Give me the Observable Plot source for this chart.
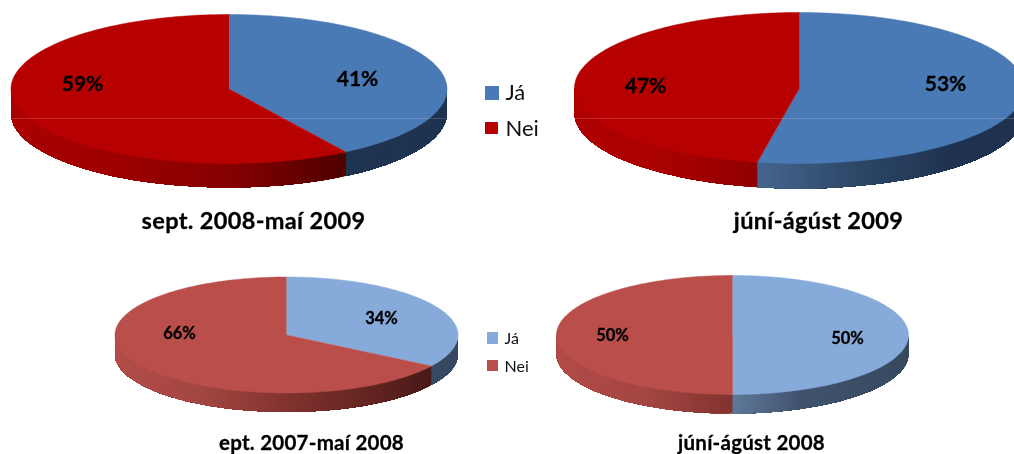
<!DOCTYPE html>
<html>
<head>
<meta charset="utf-8">
<script src="https://cdn.jsdelivr.net/npm/d3@7"></script>
<script src="https://cdn.jsdelivr.net/npm/@observablehq/plot@0.6"></script>
<style>
html,body{margin:0;padding:0;background:#fff}
#chart{width:1014px;height:454px;overflow:hidden}
#chart svg{display:block;filter:blur(0.45px)}
</style>
</head>
<body>
<div id="chart"></div>
<script>
// ---- data ----
const periods = ["sept. 2008-maí 2009", "júní-ágúst 2009", "ept. 2007-maí 2008", "júní-ágúst 2008"];
const yesValues = [41, 53, 34, 50];
const noValues = [59, 47, 66, 50];
const legendLabels = ["Já", "Nei"];

// ---- layout ----
const centerX = [228.5, 799, 286, 732];
const centerY = [88.5, 87.5, 334.5, 334.5];
const radiusX = [218, 225, 171.5, 176];
const radiusY = [74.5, 75.5, 58, 59.5];
const depth = [24, 25, 19, 19];
const titleY = [221, 221, 443, 443];
const titleX = [253, 818, 311, 751];
const yesLabelAt = [[357, 79], [945, 84], [381, 318], [847, 338]];
const noLabelAt = [[82, 84], [645, 86], [179, 333], [612, 335]];
const labelSize = [21, 21, 16.5, 16.5];
const titleSize = [23.5, 23.5, 20.5, 20.5];
const titleSpacing = [0.35, 0.35, 0.25, 0.25];

// ---- colours ----
const topYes = ["#4a7ab5", "#4a7ab5", "#86aad9", "#86aad9"];
const topNo = ["#b70000", "#b70000", "#b94e4a", "#b94e4a"];
const sideYes = [
  [[344, "#1f3450"], [446, "#1f3450"]],
  [[756, "#46668f"], [850, "#2e4969"], [950, "#1f3350"], [1024, "#1f3350"]],
  [[429, "#374a62"], [458, "#374a62"]],
  [[731, "#60799a"], [800, "#40536d"], [909, "#384a60"]]
];
const sideNo = [
  [[10, "#ab0000"], [100, "#a00000"], [228, "#860000"], [344, "#500000"]],
  [[574, "#b00000"], [680, "#a80000"], [756, "#8f0000"]],
  [[114, "#b34e4a"], [200, "#a34642"], [285, "#82332f"], [380, "#5f2320"], [430, "#481a18"]],
  [[556, "#b24c48"], [650, "#a34643"], [731, "#82332f"]]
];

const rad = d => d * Math.PI / 180;
const shade = stops => d3.scaleLinear().domain(stops.map(s => s[0])).range(stops.map(s => s[1])).clamp(true);

const topRows = [];
const sideRows = [];
let id = 0;

periods.forEach((_, i) => {
  const cx = centerX[i], cy = centerY[i], rx = radiusX[i], ry = radiusY[i], h = depth[i];
  const point = (a, dy = 0) => ({x: cx + rx * Math.sin(rad(a)), y: cy + dy - ry * Math.cos(rad(a))});
  const split = yesValues[i] / (yesValues[i] + noValues[i]) * 360;
  const slices = [
    {from: 0, to: split, top: topYes[i], side: shade(sideYes[i])},
    {from: split, to: 360, top: topNo[i], side: shade(sideNo[i])}
  ];
  for (const s of slices) {
    // top face
    const key = id++;
    topRows.push({id: key, c: s.top, x: cx, y: cy});
    for (let a = s.from; a < s.to; a += 1) topRows.push({id: key, c: s.top, ...point(a)});
    topRows.push({id: key, c: s.top, ...point(s.to)});
    // visible rim: each facet runs to the end of its slice and is overpainted by the next
    const lo = Math.max(s.from, 90), hi = Math.min(s.to, 270);
    for (const a of d3.range(lo, hi, 0.5)) {
      const k = id++;
      const c = s.side(point(a + 0.25).x);
      const row = [];
      for (let t = a; t < hi; t += 2) row.push(point(t));
      row.push(point(hi));
      for (let t = hi; t > a; t -= 2) row.push(point(t, h));
      row.push(point(a, h));
      for (const p of row) sideRows.push({id: k, c, ...p});
    }
  }
});

const yesLabels = periods.map((_, i) => ({x: yesLabelAt[i][0], y: yesLabelAt[i][1], t: yesValues[i] + "%", s: labelSize[i]}));
const noLabels = periods.map((_, i) => ({x: noLabelAt[i][0], y: noLabelAt[i][1], t: noValues[i] + "%", s: labelSize[i]}));
const titles = periods.map((t, i) => ({x: titleX[i], y: titleY[i], t, s: titleSize[i]}));

const legendSwatches = [
  {x1: 485, x2: 499, y1: 86, y2: 100, c: topYes[0]},
  {x1: 485, x2: 498, y1: 122, y2: 134, c: topNo[0]},
  {x1: 487, x2: 498, y1: 332, y2: 344, c: topYes[2]},
  {x1: 487, x2: 498, y1: 360, y2: 371, c: topNo[2]}
];
const legendBig = legendLabels.map((t, i) => ({x: 505, y: [92, 128][i], t}));
const legendSmall = legendLabels.map((t, i) => ({x: 504, y: [338, 366][i], t}));
const seams = [
  {id: 0, x: 10, y: 118}, {id: 0, x: 446, y: 118},
  {id: 1, x: 574, y: 118}, {id: 1, x: 1014, y: 118}
];

const font = "Lato, Carlito, sans-serif";
const boldText = {x: "x", y: "y", text: "t", fontSize: "s", fontWeight: 700, fontFamily: font, fill: "#000", stroke: "#000", strokeWidth: 0.3, paintOrder: "fill"};
const chart = Plot.plot({
  width: 1014,
  height: 454,
  margin: 0,
  style: {background: "#fff"},
  x: {domain: [0, 1014], range: [0, 1014], axis: null},
  y: {domain: [0, 454], range: [0, 454], axis: null},
  color: {type: "identity"},
  marks: [
    Plot.line(sideRows, {x: "x", y: "y", z: "id", fill: "c"}),
    Plot.line(topRows, {x: "x", y: "y", z: "id", fill: "c", stroke: "c", strokeWidth: 0.5}),
    Plot.line(seams, {x: "x", y: "y", z: "id", stroke: "#fff", strokeOpacity: 0.16, strokeWidth: 1}),
    Plot.text(yesLabels.concat(noLabels), boldText),
    Plot.text(titles, {...boldText, className: "period-title"}),
    Plot.rect(legendSwatches, {x1: "x1", x2: "x2", y1: "y1", y2: "y2", fill: "c"}),
    Plot.text(legendBig, {x: "x", y: "y", text: "t", fontSize: 22, fontFamily: font, textAnchor: "start", fill: "#111"}),
    Plot.text(legendSmall, {x: "x", y: "y", text: "t", fontSize: 16, fontFamily: font, textAnchor: "start", fill: "#111"})
  ]
});
d3.select(chart).selectAll(".period-title text").each(function (_, j) {
  this.style.letterSpacing = titleSpacing[j] + "px";
});
document.getElementById("chart").append(chart);
</script>
</body>
</html>
